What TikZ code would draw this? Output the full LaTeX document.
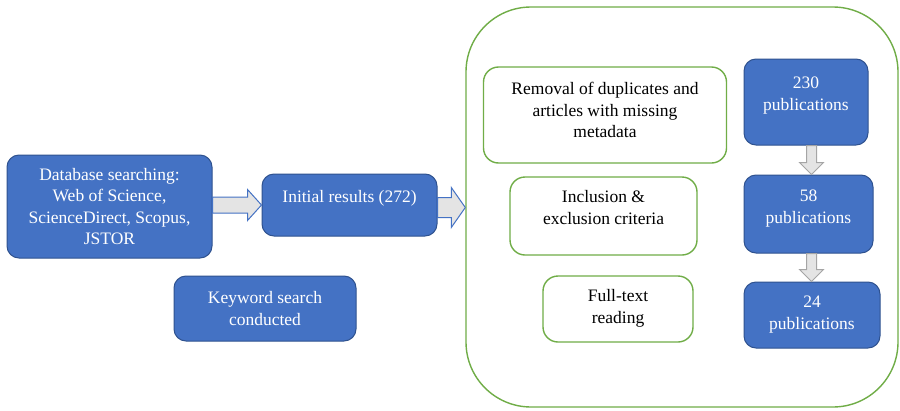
\documentclass[tikz,border=0pt]{standalone}
\usepackage{fontspec}
\setmainfont{Liberation Serif}
\newfontfamily\boxfont{Liberation Serif}
\usetikzlibrary{calc}

\definecolor{boxblue}{HTML}{4472C4}
\definecolor{boxedge}{HTML}{2F528F}
\definecolor{framegreen}{HTML}{70AD47}
\definecolor{arrowfill}{HTML}{E4E4E4}
\definecolor{arrowgray}{HTML}{A5A5A5}

% raise the text inside a box without changing the box size
\newcommand{\lifted}[2]{\raisebox{#1}[\height][\depth]{#2}}

\tikzset{
  bluebox/.style={draw=boxedge, line width=1pt, fill=boxblue, text=white,
    rounded corners=12pt, align=center, inner sep=0pt,
    font=\boxfont\fontsize{17.5}{21.5}\selectfont},
  greenbox/.style={draw=framegreen, line width=1.4pt, fill=white, text=black,
    rounded corners=15pt, align=center, inner sep=0pt,
    font=\boxfont\fontsize{17.5}{21.5}\selectfont},
  frame/.style={draw=framegreen, line width=1.4pt, rounded corners=65pt,
    inner sep=0pt},
  harrow/.style={draw=boxblue, line width=1pt, fill=arrowfill, line join=miter},
  varrow/.style={draw=arrowgray, line width=1pt, fill=arrowfill, line join=miter},
}

\begin{document}
\begin{tikzpicture}[x=1pt, y=-1pt]
  \useasboundingbox[fill=white] (0,0) rectangle (900,410);

  % outer frame of the screening stage
  \node[frame, minimum width=432pt, minimum height=400pt] (big) at (682,207) {};

  % left column
  \node[bluebox, minimum width=205pt, minimum height=103pt] (db) at (109.5,206.5)
    {Database searching:\\Web of Science,\\ScienceDirect, Scopus,\\JSTOR};
  \node[bluebox, minimum width=175pt, minimum height=62pt] (init) at (349.5,205)
    {\lifted{7pt}{Initial results (272)}};
  \node[bluebox, minimum width=182pt, minimum height=65pt] (kw) at (265,308.5)
    {Keyword search\\conducted};

  % screening steps
  \node[greenbox, minimum width=243pt, minimum height=96pt] (dup) at (605,115)
    {\lifted{3pt}{\begin{tabular}{@{}c@{}}Removal of duplicates and\\articles with missing\\metadata\end{tabular}}};
  \node[greenbox, minimum width=187pt, minimum height=78pt] (incl) at (603.5,216)
    {\lifted{7pt}{\begin{tabular}{@{}c@{}}Inclusion \&\\exclusion criteria\end{tabular}}};
  \node[greenbox, minimum width=150pt, minimum height=66pt] (full) at (618,309)
    {\lifted{1pt}{\begin{tabular}{@{}c@{}}Full-text\\reading\end{tabular}}};

  % publication counts
  \node[bluebox, minimum width=124pt, minimum height=86pt] (p230) at (806,102)
    {\lifted{7pt}{\begin{tabular}{@{}c@{}}230\\publications\end{tabular}}};
  \node[bluebox, minimum width=129pt, minimum height=78pt] (p58) at (808.5,214)
    {\lifted{6pt}{\begin{tabular}{@{}c@{}}58\\publications\end{tabular}}};
  \node[bluebox, minimum width=136pt, minimum height=66pt] (p24) at (812,315)
    {\lifted{1pt}{\begin{tabular}{@{}c@{}}24\\publications\end{tabular}}};

  % horizontal block arrows
  \draw[harrow] ($(db.east|-init.west)+(0,-8)$) -- ++(35,0) -- ++(0,-7.5)
    -- (init.west) -- ++(-14,15.5) -- ++(0,-7.5)
    -- ($(db.east|-init.west)+(0,8)$) -- cycle;
  \coordinate (tip2) at (big.west|-0,207.5);
  \draw[harrow] ($(init.east|-tip2)+(0,-10)$) -- ($(tip2)+(-14,-10)$) -- ++(0,-10)
    -- (tip2) -- ++(-14,20) -- ++(0,-10)
    -- ($(init.east|-tip2)+(0,10)$) -- cycle;

  % vertical block arrows
  \coordinate (vx) at (811.5,0);
  \draw[varrow] ($(vx|-p230.south)+(-5,0)$) -- ($(vx|-p58.north)+(-5,-12)$) -- ++(-7,0)
    -- (vx|-p58.north) -- ++(12,-12) -- ++(-7,0)
    -- ($(vx|-p230.south)+(5,0)$) -- cycle;
  \draw[varrow] ($(vx|-p58.south)+(-5,0)$) -- ($(vx|-p24.north)+(-5,-12)$) -- ++(-7,0)
    -- (vx|-p24.north) -- ++(12,-12) -- ++(-7,0)
    -- ($(vx|-p58.south)+(5,0)$) -- cycle;
\end{tikzpicture}
\end{document}
